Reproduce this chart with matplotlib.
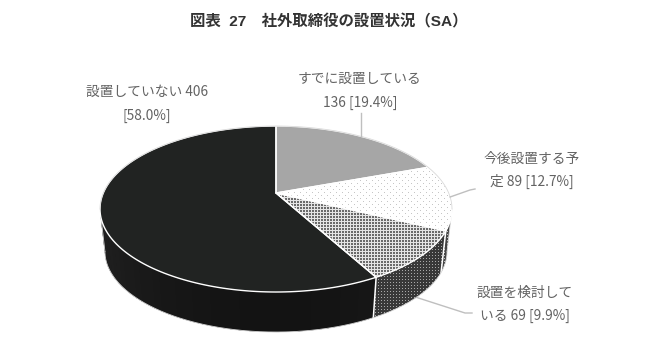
import numpy as np
import matplotlib
matplotlib.use("Agg")
import matplotlib.pyplot as plt
from matplotlib.patches import Polygon

plt.rcParams['font.family'] = ['Noto Sans CJK JP', 'DejaVu Sans']

title = "図表  27　社外取締役の設置状況（SA）"
counts = [136, 89, 69, 406]
percents = ["19.4", "12.7", "9.9", "58.0"]
label_lines = [
    ["すでに設置している", "136 [19.4%]"],
    ["今後設置する予", "定 89 [12.7%]"],
    ["設置を検討して", "いる 69 [9.9%]"],
    ["設置していない 406", "[58.0%]"],
]

W, H = 650, 351
yy, xx = np.mgrid[0:H, 0:W]


def rgb(gray):
    return np.dstack([gray, gray, gray])


# pixel textures of the patterned slices
dots_top = np.full((H, W), 1.0)
dots_top[((yy % 6 == 0) & (xx % 6 == 0)) | ((yy % 6 == 3) & (xx % 6 == 3))] = 0.78
check_top = np.full((H, W), 0.9)
check_top[(xx % 3 != 2) & (yy % 3 != 2)] = 0.42
check_side = np.full((H, W), 0.22)
check_side[(xx % 3 == 0) & (yy % 3 == 0)] = 0.66
dots_side = np.full((H, W), 0.27)
dots_side[(xx % 3 == 0) & (yy % 3 == 0)] = 0.75

top_styles = ["#a6a6a6", dots_top, check_top, "#212322"]
side_styles = ["#8a8a8a", dots_side, check_side, None]

# perspective model of the pie (pixels)
CX, CY, R, S, K = 276.0, 193.0, 172.7, 79.9, 0.193
BOTTOM_CY, BOTTOM_SCALE = 235.8, 0.972


def top_pt(t):
    u, v = np.sin(t), np.cos(t)
    w = 1 + K * v
    return CX + R * u / w, CY - S * v / w


def bottom_pt(t):
    u, v = np.sin(t), np.cos(t)
    w = 1 + K * v
    return CX + BOTTOM_SCALE * R * u / w, BOTTOM_CY - BOTTOM_SCALE * S * v / w


def arc(fn, a, b, n=80):
    t = np.linspace(a, b, max(n, 2))
    x, y = fn(t)
    return np.column_stack([x, y])


fig = plt.figure(figsize=(6.5, 3.51), dpi=100, facecolor="white")
ax = fig.add_axes([0, 0, 1, 1])


def fill(pts, style, z):
    if isinstance(style, str):
        ax.add_patch(Polygon(pts, closed=True, facecolor=style, edgecolor="none", zorder=z))
    else:
        im = ax.imshow(rgb(style), extent=(0, W, H, 0), interpolation="nearest",
                       aspect="auto", zorder=z)
        clip = Polygon(pts, closed=True, transform=ax.transData)
        im.set_clip_path(clip)


edges = np.cumsum([0] + counts) / sum(counts) * 2 * np.pi
vis_a = np.arccos(-K)
vis_b = 2 * np.pi - vis_a
OUT = "#d9d9d9"

# side wall
for i in range(len(counts)):
    a, b = max(edges[i], vis_a), min(edges[i + 1], vis_b)
    if b <= a:
        continue
    style = side_styles[i]
    pts = np.vstack([arc(top_pt, a, b), arc(bottom_pt, b, a)])
    if style is None:
        fill(pts, "#151515", 1)
        cuts = np.linspace(a, b, 40)
        for c0, c1 in zip(cuts[:-1], cuts[1:]):
            mid = (c0 + c1) / 2
            g = 0.075 + 0.055 * np.sin(mid) ** 2
            seg = np.vstack([arc(top_pt, c0, c1 + 0.012, 4), arc(bottom_pt, c1 + 0.012, c0, 4)])
            ax.add_patch(Polygon(seg, closed=True, facecolor=(g, g, g), edgecolor="none", zorder=1.1))
    else:
        fill(pts, style, 1)
    x0, y0 = top_pt(a)
    x1, y1 = bottom_pt(a)
    if a > vis_a:
        ax.plot([x0, x1], [y0, y1], color="white", lw=1.1, zorder=2)

bot = arc(bottom_pt, vis_a, vis_b, 200)
ax.plot(bot[:, 0], bot[:, 1], color=OUT, lw=0.6, zorder=2)
for t in (vis_a, vis_b):
    ax.plot([top_pt(t)[0], bottom_pt(t)[0]], [top_pt(t)[1], bottom_pt(t)[1]],
            color=OUT, lw=0.6, zorder=2)

# top face
for i in range(len(counts)):
    pts = np.vstack([[CX, CY], arc(top_pt, edges[i], edges[i + 1], 160)])
    fill(pts, top_styles[i], 3)
for i in range(len(counts)):
    pts = np.vstack([[CX, CY], arc(top_pt, edges[i], edges[i + 1], 160)])
    ax.add_patch(Polygon(pts, closed=True, facecolor="none",
                         edgecolor="white", lw=1.0, joinstyle="round", zorder=4))
rim = arc(top_pt, vis_b - 2 * np.pi, vis_a, 200)
ax.plot(rim[:, 0], rim[:, 1], color=OUT, lw=0.6, zorder=5)

# leader lines, anchored on the slice middles
mids = (edges[:-1] + edges[1:]) / 2
LINE = "#bfbfbf"
p = top_pt(mids[0])
ax.plot([p[0], p[0]], [p[1], 113], color=LINE, lw=1, zorder=6)
p = top_pt(mids[1])
ax.plot([p[0], 470, 475], [p[1], 190, 189], color=LINE, lw=1, zorder=6)
p = bottom_pt(mids[2])
ax.plot([p[0], 465, 472], [p[1], 313, 313], color=LINE, lw=1, zorder=6)

ax.set_xlim(0, W)
ax.set_ylim(H, 0)
ax.axis("off")

# text
TXT = "#636363"
label_pos = [(360, 79, 103), (532, 158.5, 181), (525, 292.5, 315.5), (147, 92, 116)]
for lines, (x, y1, y2) in zip(label_lines, label_pos):
    for s, y in zip(lines, (y1, y2)):
        ax.text(x, y, s, ha="center", va="center", fontsize=9.9, color=TXT, zorder=7)
ax.text(323, 22, title, ha="center", va="center", fontsize=11.1,
        family=['Liberation Sans', 'Noto Sans CJK JP'],
        fontweight="bold", color="#333333", zorder=7)
# shift title to the reference's horizontal span
ax.texts[-1].set_x(328.5)
ax.texts[-1].set_y(21.5)

fig.savefig("out.png", dpi=100, facecolor="white")
